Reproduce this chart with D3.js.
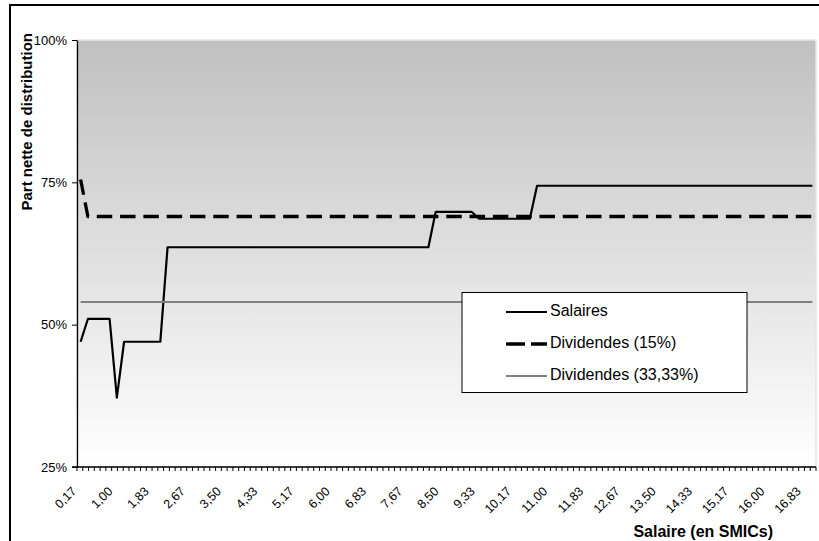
<!DOCTYPE html>
<html>
<head>
<meta charset="utf-8">
<script src="https://cdn.jsdelivr.net/npm/d3@7"></script>
<style>
  html, body { margin: 0; padding: 0; background: #fff; }
  svg { display: block; font-family: Arial, "Liberation Sans", sans-serif; }
</style>
</head>
<body>
<svg id="chart" width="819" height="541"></svg>
<script>
// Salary levels, in multiples of the SMIC
const categories = [
  "0,17","0,33","0,50","0,67","0,83",
  "1,00","1,17","1,33","1,50","1,67","1,83",
  "2,00","2,17","2,33","2,50","2,67","2,83",
  "3,00","3,17","3,33","3,50","3,67","3,83",
  "4,00","4,17","4,33","4,50","4,67","4,83",
  "5,00","5,17","5,33","5,50","5,67","5,83",
  "6,00","6,17","6,33","6,50","6,67","6,83",
  "7,00","7,17","7,33","7,50","7,67","7,83",
  "8,00","8,17","8,33","8,50","8,67","8,83",
  "9,00","9,17","9,33","9,50","9,67","9,83",
  "10,00","10,17","10,33","10,50","10,67","10,83",
  "11,00","11,17","11,33","11,50","11,67","11,83",
  "12,00","12,17","12,33","12,50","12,67","12,83",
  "13,00","13,17","13,33","13,50","13,67","13,83",
  "14,00","14,17","14,33","14,50","14,67","14,83",
  "15,00","15,17","15,33","15,50","15,67","15,83",
  "16,00","16,17","16,33","16,50","16,67","16,83",
  "17,00"
];

// Net share of distribution (%)
const salaires = [
  47, 51, 51, 51, 51, 37.2, 47, 47, 47, 47, 47, 47,
  63.6, 63.6, 63.6, 63.6, 63.6, 63.6, 63.6, 63.6, 63.6, 63.6,
  63.6, 63.6, 63.6, 63.6, 63.6, 63.6, 63.6, 63.6, 63.6, 63.6,
  63.6, 63.6, 63.6, 63.6, 63.6, 63.6, 63.6, 63.6, 63.6, 63.6,
  63.6, 63.6, 63.6, 63.6, 63.6, 63.6, 63.6,
  69.8, 69.8, 69.8, 69.8, 69.8, 69.8,
  68.6, 68.6, 68.6, 68.6, 68.6, 68.6, 68.6, 68.6,
  74.4, 74.4, 74.4, 74.4, 74.4, 74.4, 74.4, 74.4, 74.4, 74.4,
  74.4, 74.4, 74.4, 74.4, 74.4, 74.4, 74.4, 74.4, 74.4, 74.4,
  74.4, 74.4, 74.4, 74.4, 74.4, 74.4, 74.4, 74.4, 74.4, 74.4,
  74.4, 74.4, 74.4, 74.4, 74.4, 74.4, 74.4, 74.4, 74.4
];

const dividendes15 = [
  75.5,
  69, 69, 69, 69, 69, 69, 69, 69, 69, 69,
  69, 69, 69, 69, 69, 69, 69, 69, 69, 69,
  69, 69, 69, 69, 69, 69, 69, 69, 69, 69,
  69, 69, 69, 69, 69, 69, 69, 69, 69, 69,
  69, 69, 69, 69, 69, 69, 69, 69, 69, 69,
  69, 69, 69, 69, 69, 69, 69, 69, 69, 69,
  69, 69, 69, 69, 69, 69, 69, 69, 69, 69,
  69, 69, 69, 69, 69, 69, 69, 69, 69, 69,
  69, 69, 69, 69, 69, 69, 69, 69, 69, 69,
  69, 69, 69, 69, 69, 69, 69, 69, 69, 69,
  69
];

const dividendes33 = [
  54, 54, 54, 54, 54, 54, 54, 54, 54, 54,
  54, 54, 54, 54, 54, 54, 54, 54, 54, 54,
  54, 54, 54, 54, 54, 54, 54, 54, 54, 54,
  54, 54, 54, 54, 54, 54, 54, 54, 54, 54,
  54, 54, 54, 54, 54, 54, 54, 54, 54, 54,
  54, 54, 54, 54, 54, 54, 54, 54, 54, 54,
  54, 54, 54, 54, 54, 54, 54, 54, 54, 54,
  54, 54, 54, 54, 54, 54, 54, 54, 54, 54,
  54, 54, 54, 54, 54, 54, 54, 54, 54, 54,
  54, 54, 54, 54, 54, 54, 54, 54, 54, 54,
  54, 54
];

const yTicks = [25, 50, 75, 100];
const seriesNames = ["Salaires", "Dividendes (15%)", "Dividendes (33,33%)"];

const series = [
  { name: seriesNames[0], values: salaires,     color: "#000",    width: 2.2, dash: null,     legendDash: null },
  { name: seriesNames[1], values: dividendes15, color: "#000",    width: 3.3, dash: "15.5,7.8", legendDash: "19,6" },
  { name: seriesNames[2], values: dividendes33, color: "#808080", width: 2,   dash: null,     legendDash: null }
];

const plot = { left: 77, right: 816, top: 40, bottom: 467 };
const svg = d3.select("#chart");

// outer frame of the chart
svg.append("rect")
  .attr("x", 10).attr("y", 5).attr("width", 840).attr("height", 560)
  .attr("fill", "#fff").attr("stroke", "#000").attr("stroke-width", 2);

const grad = svg.append("defs").append("linearGradient")
  .attr("id", "plotBg").attr("x1", 0).attr("y1", 0).attr("x2", 0).attr("y2", 1);
grad.append("stop").attr("offset", "0%").attr("stop-color", "#c0c0c0");
grad.append("stop").attr("offset", "100%").attr("stop-color", "#ffffff");

const x = d3.scalePoint().domain(categories).range([plot.left, plot.right]).padding(0.5);
const y = d3.scaleLinear().domain([25, 100]).range([plot.bottom, plot.top]);

// plot area
svg.append("rect")
  .attr("x", plot.left).attr("y", plot.top)
  .attr("width", plot.right - plot.left).attr("height", plot.bottom - plot.top)
  .attr("fill", "url(#plotBg)").attr("stroke", "#e4e4e4").attr("stroke-width", 1.5);

// series lines
const line = d3.line()
  .x((d, i) => x(categories[i]))
  .y(d => y(d));

series.forEach(s => {
  svg.append("path")
    .datum(s.values)
    .attr("d", line)
    .attr("fill", "none")
    .attr("stroke", s.color)
    .attr("stroke-width", s.width)
    .attr("stroke-linejoin", "round")
    .attr("stroke-dasharray", s.dash);
});

// y axis
const yAxis = svg.append("g")
  .attr("transform", `translate(${plot.left},0)`)
  .call(d3.axisLeft(y).tickValues(yTicks).tickSize(5).tickSizeOuter(0).tickPadding(5)
    .tickFormat(d => d + "%"));
yAxis.select(".domain").attr("stroke", "#000").attr("stroke-width", 1.3);
yAxis.selectAll(".tick line").attr("stroke", "#000");
yAxis.selectAll(".tick text").attr("font-size", 13).attr("fill", "#000")
  .attr("font-family", "Arial, 'Liberation Sans', sans-serif");

// x axis: labels on every fifth category
const labelled = categories.filter((c, i) => i % 5 === 0);
const xAxis = svg.append("g")
  .attr("transform", `translate(0,${plot.bottom})`)
  .call(d3.axisBottom(x).tickValues(labelled).tickSize(0).tickSizeOuter(0));
xAxis.select(".domain").remove();
xAxis.selectAll(".tick text")
  .attr("font-size", 12.5).attr("fill", "#000")
  .attr("font-family", "Arial, 'Liberation Sans', sans-serif")
  .attr("x", 0).attr("y", 0).attr("dy", 0)
  .attr("text-anchor", "end")
  .attr("transform", "translate(-4,25) rotate(-45)");

// x axis baseline with fine tick marks
const minorTicks = d3.scaleLinear().domain([0, 128]).range([plot.left, plot.right]);
svg.append("g").selectAll("line")
  .data(minorTicks.ticks(128))
  .join("line")
  .attr("x1", d => minorTicks(d)).attr("x2", d => minorTicks(d))
  .attr("y1", plot.bottom).attr("y2", plot.bottom + 4)
  .attr("stroke", "#000").attr("stroke-width", 1);
svg.append("line")
  .attr("x1", plot.left - 5).attr("x2", plot.right)
  .attr("y1", plot.bottom).attr("y2", plot.bottom)
  .attr("stroke", "#000").attr("stroke-width", 1.3);

// axis titles
svg.append("text")
  .attr("transform", "translate(32,33) rotate(-90)")
  .attr("text-anchor", "end")
  .attr("font-size", 15).attr("font-weight", "bold")
  .text("Part nette de distribution");

svg.append("text")
  .attr("x", 773).attr("y", 537)
  .attr("text-anchor", "end")
  .attr("font-size", 16).attr("font-weight", "bold")
  .text("Salaire (en SMICs)");

// legend
const legend = svg.append("g");
legend.append("rect")
  .attr("x", 462).attr("y", 292.5).attr("width", 285).attr("height", 100)
  .attr("fill", "#fff").attr("stroke", "#000").attr("stroke-width", 1);

const rows = legend.selectAll("g.row").data(series).join("g")
  .attr("class", "row")
  .attr("transform", (d, i) => `translate(0,${312 + i * 32})`);
rows.append("line")
  .attr("x1", 506).attr("x2", 547).attr("y1", 0).attr("y2", 0)
  .attr("stroke", d => d.color).attr("stroke-width", d => d.width)
  .attr("stroke-dasharray", d => d.legendDash);
rows.append("text")
  .attr("x", 550).attr("y", 4)
  .attr("font-size", 16).attr("fill", "#000")
  .text(d => d.name);
</script>
</body>
</html>
